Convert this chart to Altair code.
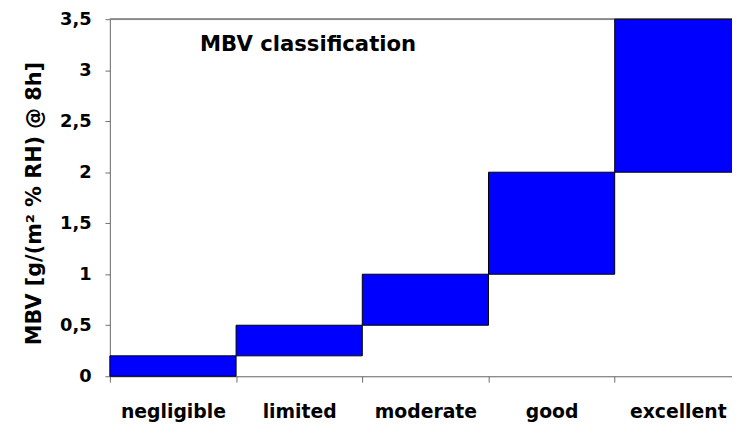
import altair as alt
import pandas as pd

categories = ["negligible", "limited", "moderate", "good", "excellent"]
lower = [0.0, 0.2, 0.5, 1.0, 2.0]
upper = [0.2, 0.5, 1.0, 2.0, 3.5]
y_ticks = [0, 0.5, 1, 1.5, 2, 2.5, 3, 3.5]
annotation = "MBV classification"
y_title = "MBV [g/(m² % RH) @ 8h]"
y_max = 3.5

df = pd.DataFrame({"cat": categories, "lo": lower, "hi": upper})
ann = pd.DataFrame({"cat": ["limited"], "y": [3.25], "label": [annotation]})

FONT = "DejaVu Sans"

x_scale = alt.Scale(paddingInner=0, paddingOuter=0, range=[0, 638])
y_scale = alt.Scale(domain=[0, y_max], nice=False, zero=True)

x_enc = alt.X(
    "cat:N",
    sort=categories,
    scale=x_scale,
    axis=alt.Axis(
        title=None,
        labelAngle=0,
        labelFont=FONT,
        labelFontWeight="bold",
        labelFontSize=19,
        labelColor="#000000",
        labelPadding=21,
        tickBand="extent",
        tickSize=6,
        tickColor="#6e6e6e",
        domainColor="#6e6e6e",
        grid=False,
    ),
)

bars = alt.Chart(df).mark_bar(
    color="#0000FF", stroke="#000000", strokeWidth=1
).encode(
    x=x_enc,
    y=alt.Y(
        "lo:Q",
        scale=y_scale,
        axis=alt.Axis(
            title=y_title,
            titleFont=FONT,
            titleFontWeight="bold",
            titleFontSize=21,
            titleColor="#000000",
            titlePadding=15,
            titleY=186,
            values=y_ticks,
            labelExpr="replace(toString(datum.value), '.', ',')",
            labelFont=FONT,
            labelFontWeight="bold",
            labelFontSize=18,
            labelColor="#000000",
            labelPadding=14,
            tickSize=5,
            tickColor="#6e6e6e",
            domainColor="#6e6e6e",
            gridColor="#d9d9d9",
            gridWidth=1,
        ),
    ),
    y2="hi:Q",
)

top_border = alt.Chart(df).mark_rule(color="#888888", strokeWidth=1).encode(
    y=alt.datum(y_max, scale=y_scale)
)

text = alt.Chart(ann).mark_text(
    font=FONT, fontWeight="bold", fontSize=21.4, color="#000000",
    align="center", baseline="middle", dx=9
).encode(
    x=alt.X("cat:N", sort=categories, scale=x_scale),
    y=alt.Y("y:Q", scale=y_scale),
    text="label:N",
)

chart = alt.layer(top_border, bars, text).properties(
    width=629,
    height=361,
    autosize=alt.AutoSizeParams(type="none"),
    padding={"left": 103, "top": 9, "right": 0, "bottom": 48},
).configure_view(stroke=None).configure(background="#ffffff")

chart.save("out.html", embed_options={"renderer": "svg", "actions": False})
